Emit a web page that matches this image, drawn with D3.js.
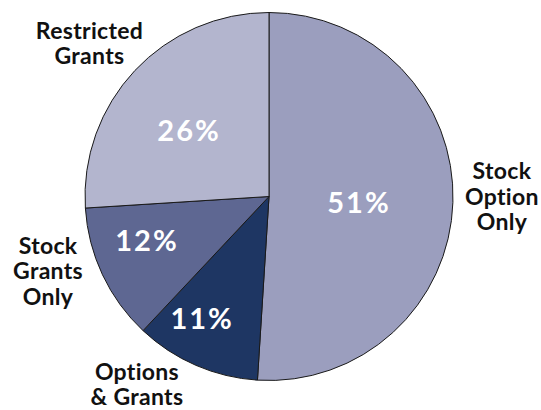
<!DOCTYPE html>
<html>
<head>
<meta charset="utf-8">
<script src="https://cdn.jsdelivr.net/npm/d3@7"></script>
<style>
  html, body { margin: 0; padding: 0; background: #ffffff; }
  svg { display: block; }
  text { font-family: Lato, "Open Sans", sans-serif; font-weight: 700; }
</style>
</head>
<body>
<svg id="chart" width="541" height="410"></svg>
<script>
// Award types and their share of companies (percent)
const categories = ["Stock Option Only", "Options & Grants", "Stock Grants Only", "Restricted Grants"];
const shares = [51, 11, 12, 26];
const colors = ["#9b9ebe", "#1e3663", "#5e6792", "#b3b5ce"];
// Outside label lines for each category
const labelLines = [
  ["Stock", "Option", "Only"],
  ["Options", "& Grants"],
  ["Stock", "Grants", "Only"],
  ["Restricted", "Grants"]
];

const cx = 269, cy = 196.5, radius = 184;

const svg = d3.select("#chart");
const g = svg.append("g").attr("transform", `translate(${cx},${cy})`);

const data = categories.map((c, i) => ({ name: c, value: shares[i], color: colors[i], lines: labelLines[i] }));

const pie = d3.pie().value(d => d.value).sort(null).startAngle(0).endAngle(2 * Math.PI);
const arcs = pie(data);

const arc = d3.arc().innerRadius(0).outerRadius(radius);

g.selectAll("path.slice")
  .data(arcs)
  .join("path")
  .attr("class", "slice")
  .attr("d", arc)
  .attr("fill", d => d.data.color)
  .attr("stroke", "#1a1a1a")
  .attr("stroke-width", 1)
  .attr("stroke-linejoin", "round");

// Polar placement around each slice's middle angle (degrees nudge, radius factor)
function polar(d, nudgeDeg, factor) {
  const a = (d.startAngle + d.endAngle) / 2 + nudgeDeg * Math.PI / 180;
  const r = radius * factor;
  return [Math.sin(a) * r, -Math.cos(a) * r];
}

// Percent labels inside the slices
const pctNudge = [2.4, 5.6, 5.3, -4.2];
const pctFactor = [0.485, 0.761, 0.711, 0.566];
g.selectAll("text.pct")
  .data(arcs)
  .join("text")
  .attr("class", "pct")
  .attr("transform", (d, i) => {
    const [x, y] = polar(d, pctNudge[i], pctFactor[i]);
    return `translate(${x + 1},${y})`;
  })
  .attr("text-anchor", "middle")
  .attr("dy", "0.36em")
  .attr("fill", "#ffffff")
  .style("font-size", "29px")
  .style("letter-spacing", "2px")
  .text(d => d.data.value + "%");

// Category labels outside the pie
const catNudge = [-1.8, 11.7, 6.6, -2.75];
const catFactor = [1.266, 1.248, 1.267, 1.282];
const lineGap = 25.5;
const cat = g.selectAll("text.cat")
  .data(arcs)
  .join("text")
  .attr("class", "cat")
  .attr("transform", (d, i) => {
    const [x, y] = polar(d, catNudge[i], catFactor[i]);
    return `translate(${x},${y})`;
  })
  .attr("text-anchor", "middle")
  .attr("fill", "#111111")
  .style("font-size", "23px")
  .style("letter-spacing", "0.3px");

cat.each(function(d) {
  const n = d.data.lines.length;
  d3.select(this).selectAll("tspan")
    .data(d.data.lines)
    .join("tspan")
    .attr("x", 0)
    .attr("y", (l, j) => (j - (n - 1) / 2) * lineGap)
    .attr("dy", "0.36em")
    .text(l => l);
});
</script>
</body>
</html>
